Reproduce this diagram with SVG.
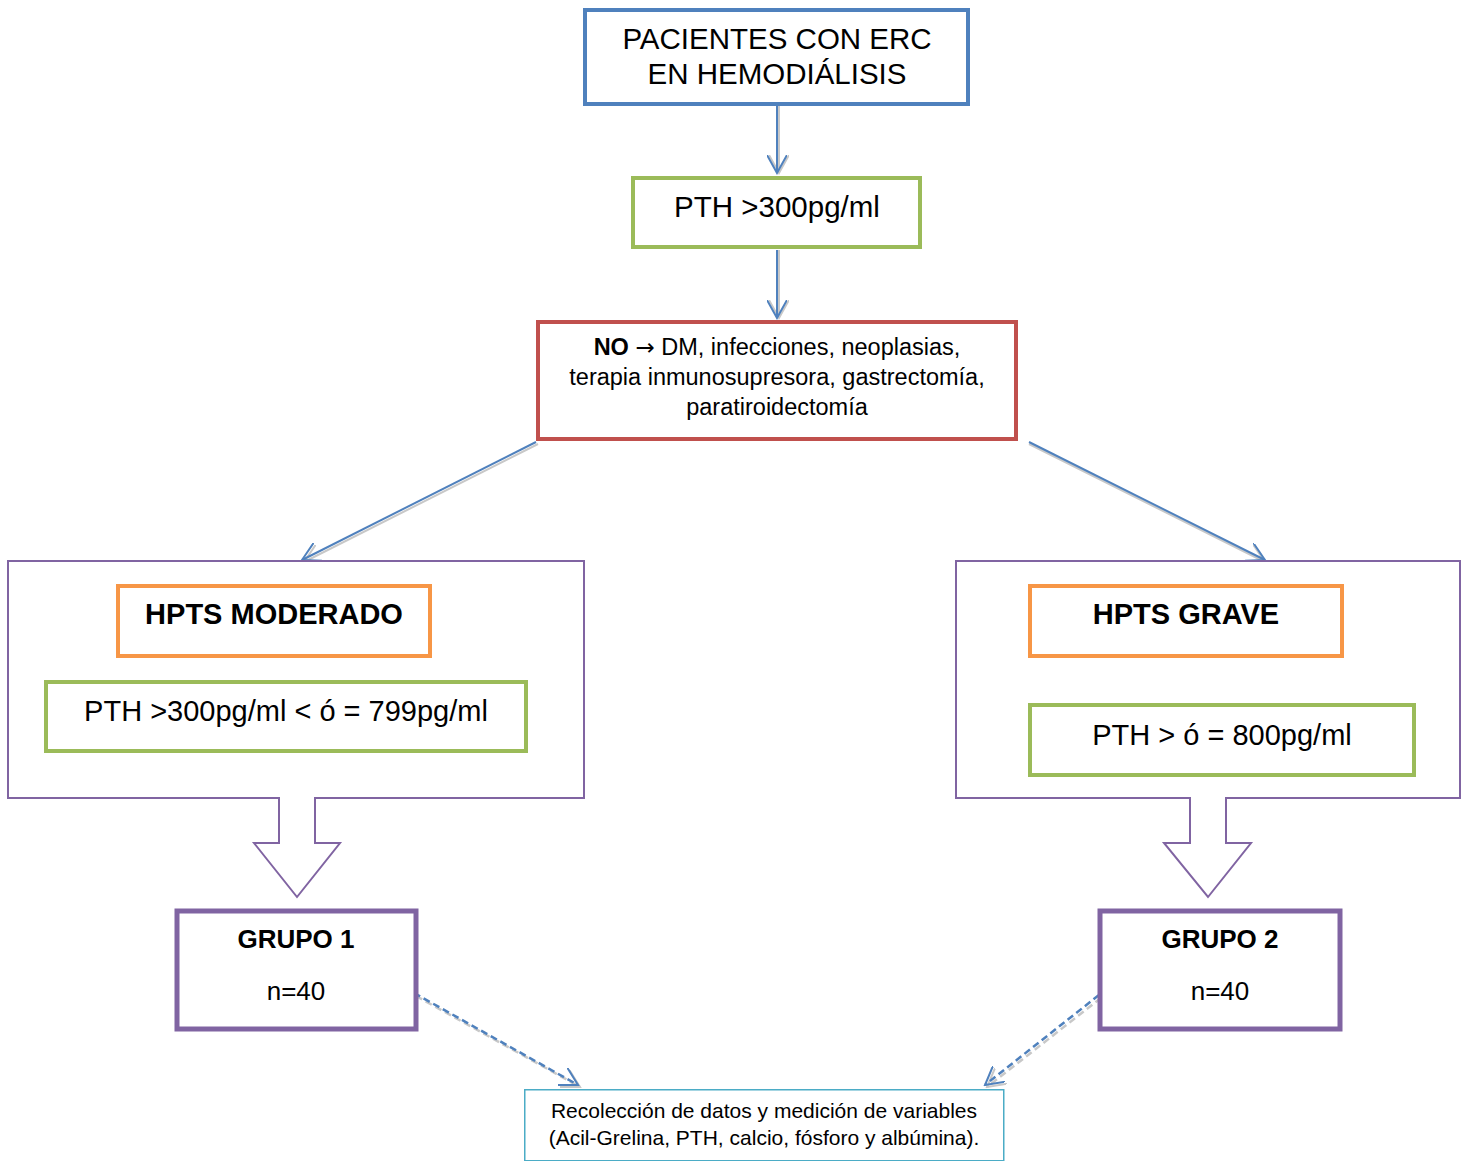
<svg xmlns="http://www.w3.org/2000/svg" width="1468" height="1161" viewBox="0 0 1468 1161">
<style>
.t{font-family:"Liberation Sans",Arial,sans-serif;fill:#000;text-anchor:middle}
.b{font-weight:bold}
.box{fill:#fff}
.blue{stroke:#4f81bd;stroke-width:4}
.green{stroke:#9bbb59;stroke-width:4}
.red{stroke:#c0504d;stroke-width:4}
.orange{stroke:#f79646;stroke-width:4}
.purple{stroke:#8064a2;stroke-width:5}
.callout{fill:#fff;stroke:#8064a2;stroke-width:2}
.cyan{stroke:#4bacc6;stroke-width:1.5}
.con{fill:none;stroke:#4f81bd;stroke-width:2}
.sh{fill:none;stroke:#c8c8c8;stroke-width:2}
.dash{stroke-dasharray:7 4;stroke-width:2.5}
.arr{font-family:"DejaVu Sans",sans-serif}
</style>
<defs>
<marker id="ah" viewBox="0 0 20 20" refX="18" refY="10" markerWidth="20" markerHeight="20" markerUnits="userSpaceOnUse" orient="auto">
<path d="M0,0 L18,10 L0,20" fill="none" stroke="#4f81bd" stroke-width="2"/>
</marker>
<marker id="ahs" viewBox="0 0 20 20" refX="18" refY="10" markerWidth="20" markerHeight="20" markerUnits="userSpaceOnUse" orient="auto">
<path d="M0,0 L18,10 L0,20" fill="none" stroke="#c8c8c8" stroke-width="2"/>
</marker>
</defs>
<rect width="1468" height="1161" fill="#fff"/>

<g id="connectors">
<line class="sh" x1="779" y1="106" x2="779" y2="173" marker-end="url(#ahs)"/>
<line class="con" x1="777" y1="106" x2="777" y2="173" marker-end="url(#ah)"/>
<line class="sh" x1="779" y1="250" x2="779" y2="318" marker-end="url(#ahs)"/>
<line class="con" x1="777" y1="250" x2="777" y2="318" marker-end="url(#ah)"/>
<line class="sh" x1="538" y1="444" x2="304" y2="562" marker-end="url(#ahs)"/>
<line class="con" x1="536" y1="442" x2="302" y2="560" marker-end="url(#ah)"/>
<line class="sh" x1="1029" y1="444" x2="1265" y2="562" marker-end="url(#ahs)"/>
<line class="con" x1="1029" y1="442" x2="1265" y2="560" marker-end="url(#ah)"/>
<line class="sh dash" x1="416" y1="996" x2="580" y2="1087" marker-end="url(#ahs)"/>
<line class="con dash" x1="414" y1="993" x2="578" y2="1085" marker-end="url(#ah)"/>
<line class="sh dash" x1="1101" y1="998" x2="987" y2="1087" marker-end="url(#ahs)"/>
<line class="con dash" x1="1099" y1="995" x2="985" y2="1085" marker-end="url(#ah)"/>
</g>

<g id="n-pacientes">
<rect class="box blue" x="585" y="10" width="383" height="94"/>
<text class="t" x="777" y="49" font-size="29.5">PACIENTES CON ERC</text>
<text class="t" x="777" y="84" font-size="29.5">EN HEMODIÁLISIS</text>
</g>

<g id="n-pth">
<rect class="box green" x="633" y="178" width="287" height="69"/>
<text class="t" x="777" y="217" font-size="29.5">PTH &gt;300pg/ml</text>
</g>

<g id="n-exclusion">
<rect class="box red" x="538" y="322" width="478" height="117"/>
<text class="t" x="777" y="355" font-size="23.5"><tspan class="b">NO</tspan> <tspan class="arr" font-size="23">→</tspan> DM, infecciones, neoplasias,</text>
<text class="t" x="777" y="385" font-size="23.5">terapia inmunosupresora, gastrectomía,</text>
<text class="t" x="777" y="415" font-size="23.5">paratiroidectomía</text>
</g>

<g id="n-moderado-callout">
<path class="callout" d="M8,561 H584 V798 H315 V843 H340 L297,897 L254,843 H279 V798 H8 Z"/>
</g>
<g id="n-moderado">
<rect class="box orange" x="118" y="586" width="312" height="70"/>
<text class="t b" x="274" y="624" font-size="29">HPTS MODERADO</text>
</g>
<g id="n-moderado-pth">
<rect class="box green" x="46" y="682" width="480" height="69"/>
<text class="t" x="286" y="721" font-size="29">PTH &gt;300pg/ml &lt; ó = 799pg/ml</text>
</g>

<g id="n-grave-callout">
<path class="callout" d="M956,561 H1460 V798 H1226 V843 H1251 L1208,897 L1164,843 H1190 V798 H956 Z"/>
</g>
<g id="n-grave">
<rect class="box orange" x="1030" y="586" width="312" height="70"/>
<text class="t b" x="1186" y="624" font-size="29">HPTS GRAVE</text>
</g>
<g id="n-grave-pth">
<rect class="box green" x="1030" y="705" width="384" height="70"/>
<text class="t" x="1222" y="745" font-size="29">PTH &gt; ó = 800pg/ml</text>
</g>

<g id="n-grupo1">
<rect class="box purple" x="177" y="911" width="239" height="118"/>
<text class="t b" x="296" y="948" font-size="26">GRUPO 1</text>
<text class="t" x="296" y="1000" font-size="26">n=40</text>
</g>

<g id="n-grupo2">
<rect class="box purple" x="1100" y="911" width="240" height="118"/>
<text class="t b" x="1220" y="948" font-size="26">GRUPO 2</text>
<text class="t" x="1220" y="1000" font-size="26">n=40</text>
</g>

<g id="n-recoleccion">
<rect class="box cyan" x="524.75" y="1089.75" width="479" height="71"/>
<text class="t" x="764" y="1118" font-size="21">Recolección de datos y medición de variables</text>
<text class="t" x="764" y="1145" font-size="21">(Acil-Grelina, PTH, calcio, fósforo y albúmina).</text>
</g>
</svg>
